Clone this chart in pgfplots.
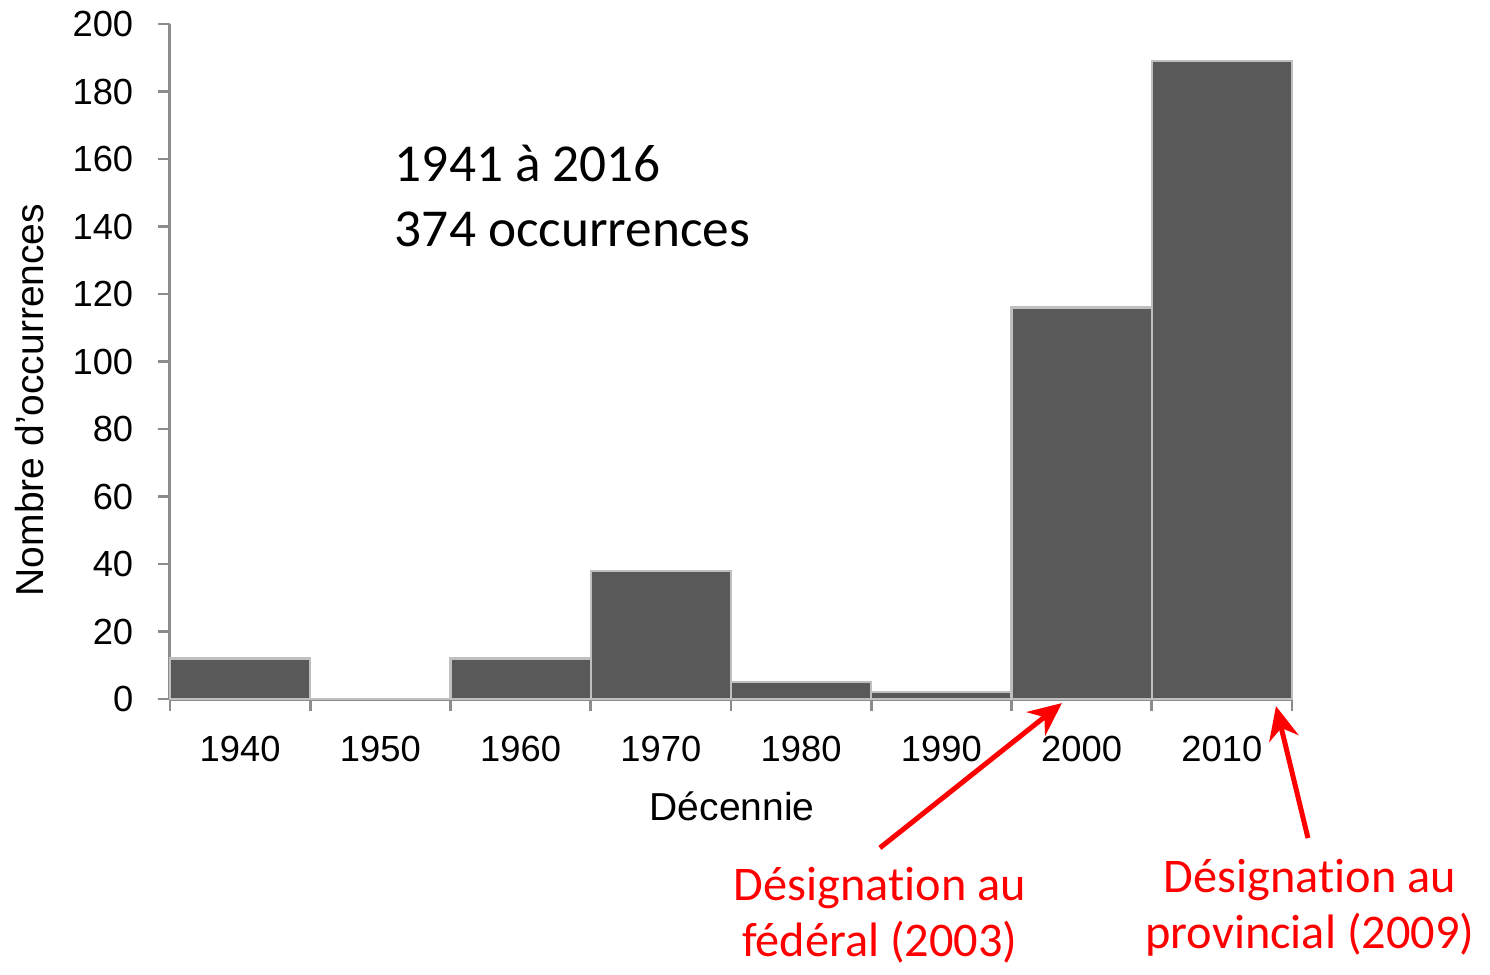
\documentclass[border=0pt]{standalone}
\usepackage{pgfplots}
\pgfplotsset{compat=1.18}
\usepackage{fontspec}
\setmainfont{Liberation Sans}[Ligatures=ResetAll]
\newfontfamily\calibri[Ligatures=NoCommon]{Carlito}
\usetikzlibrary{arrows.meta}
\definecolor{barfill}{HTML}{595959}
\definecolor{baredge}{HTML}{BFBFBF}
\definecolor{axgray}{HTML}{8C8C8C}
\begin{document}
\begin{tikzpicture}
\begin{axis}[
  scale only axis,
  width=336.6pt, height=202.5pt,
  xmin=0, xmax=8, ymin=0, ymax=200,
  axis lines=left,
  axis line style={-, axgray, line width=0.9pt},
  clip=false,
  xtick={0,1,2,3,4,5,6,7,8},
  xticklabels={1940,1950,1960,1970,1980,1990,2000,2010},
  x tick label as interval,
  ytick={0,20,...,200},
  tick align=outside,
  major tick length=3.5pt,
  tick style={axgray, line width=0.8pt},
  /pgf/number format/assume math mode=true,
  tick label style={font=\fontsize{10.9}{13}\selectfont, black},
  xticklabel style={yshift=-4.2pt},
  yticklabel style={xshift=-4pt},
  xlabel={Décennie},
  ylabel={Nombre d'occurrences},
  label style={font=\fontsize{11.7}{14}\selectfont},
  xlabel style={at={(axis description cs:0.501,-0.1585)}, anchor=center},
  ylabel style={at={(axis description cs:-0.1248,0.443)}, anchor=center, rotate=0},
]
\addplot[ybar interval, fill=barfill, draw=baredge, line width=0.7pt] coordinates {
  (0,12) (1,0) (2,12) (3,38) (4,5) (5,2) (6,116) (7,189) (8,189)
};
\node[anchor=west, align=left, font=\calibri\fontsize{16}{19.5}\selectfont] at (axis cs:1.52,149) {1941 à 2016\\374 occurrences};
\draw[red, line width=1.5pt, -{Stealth[length=10pt,width=9pt]}] (axis cs:5.062,-44.1) -- (axis cs:6.36,-1.2);
\draw[red, line width=1.5pt, -{Stealth[length=10pt,width=9pt]}] (axis cs:8.114,-41.2) -- (axis cs:7.886,-2.1);
\node[red, align=center, font=\calibri\fontsize{14.5}{16.8}\selectfont] at (axis cs:5.062,-64) {Désignation au\\fédéral (2003)};
\node[red, align=center, font=\calibri\fontsize{14.5}{16.8}\selectfont] at (axis cs:8.128,-61.9) {Désignation au\\provincial (2009)};
\path (rel axis cs:-0.1515,-0.3956) rectangle (rel axis cs:1.1765,1.0356);
\end{axis}
\end{tikzpicture}
\end{document}
